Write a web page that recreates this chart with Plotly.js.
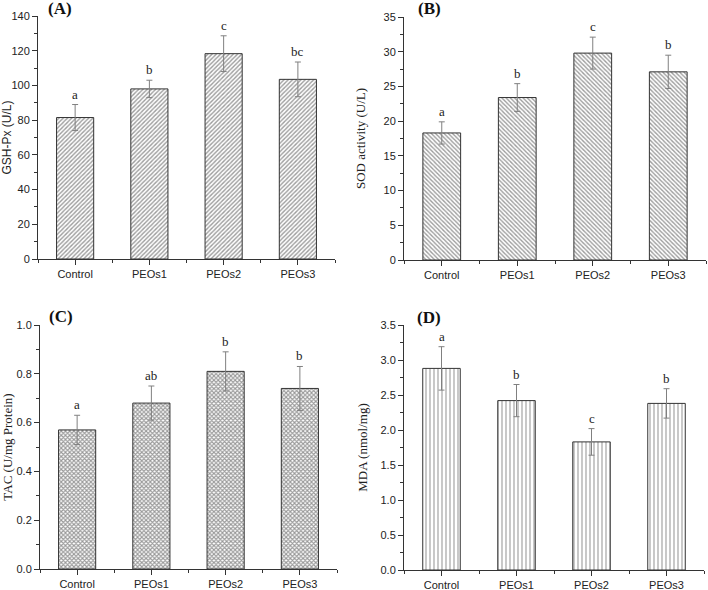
<!DOCTYPE html>
<html>
<head>
<meta charset="utf-8">
<script src="https://cdn.plot.ly/plotly-3.0.1.min.js"></script>
<style>html,body{margin:0;padding:0;background:#fff;}#chart{width:708px;height:590px;}</style>
</head>
<body>
<div id="chart"></div>
<script>
const categories = ["Control", "PEOs1", "PEOs2", "PEOs3"];

const gshValues = [81.5, 98, 118.3, 103.5];
const gshErrors = [7.5, 5, 10.3, 10];
const gshLetters = ["a", "b", "c", "bc"];

const sodValues = [18.3, 23.4, 29.8, 27.1];
const sodErrors = [1.6, 2.0, 2.3, 2.4];
const sodLetters = ["a", "b", "c", "b"];

const tacValues = [0.57, 0.68, 0.81, 0.74];
const tacErrors = [0.06, 0.07, 0.08, 0.09];
const tacLetters = ["a", "ab", "b", "b"];

const mdaValues = [2.88, 2.42, 1.83, 2.38];
const mdaErrors = [0.31, 0.23, 0.19, 0.21];
const mdaLetters = ["a", "b", "c", "b"];

const panelLabels = ["(A)", "(B)", "(C)", "(D)"];
const yTitles = ["GSH-Px (U/L)", "SOD activity (U/L)", "TAC (U/mg Protein)", "MDA (nmol/mg)"];

const xIdx = categories.map((c, i) => i);

const panels = [
  {vals: gshValues, errs: gshErrors, letters: gshLetters, shape: "/", psize: 3, psol: 0.45, fg: "#3a3a3a", range: [0, 140], dtick: 20, minor: 10, fmt: "", xd: [38/708, 335/708], yd: [331/590, 574/590], titleFont: "Liberation Sans, Arial, sans-serif", titleSize: 12, standoff: 10},
  {vals: sodValues, errs: sodErrors, letters: sodLetters, shape: "\\", psize: 3, psol: 0.45, fg: "#3a3a3a", range: [0, 35], dtick: 5, minor: 2.5, fmt: "", xd: [404/708, 706/708], yd: [330/590, 573/590], titleFont: "Liberation Serif, Times New Roman, serif", titleSize: 13, standoff: 14},
  {vals: tacValues, errs: tacErrors, letters: tacLetters, shape: "x", psize: 3, psol: 0.6, fg: "#333333", range: [0, 1.0], dtick: 0.2, minor: 0.1, fmt: ".1f", xd: [40/708, 337/708], yd: [21/590, 265/590], titleFont: "Liberation Serif, Times New Roman, serif", titleSize: 13, standoff: 7},
  {vals: mdaValues, errs: mdaErrors, letters: mdaLetters, shape: "|", psize: 4, psol: 0.28, fg: "#3a3a3a", range: [0, 3.5], dtick: 0.5, minor: 0.25, fmt: ".1f", xd: [404/708, 704/708], yd: [20/590, 265/590], titleFont: "Liberation Serif, Times New Roman, serif", titleSize: 13, standoff: 9}
];

const traces = [];
const annotations = [];
const layout = {
  width: 708, height: 590,
  margin: {l: 0, r: 0, t: 0, b: 0},
  paper_bgcolor: "#fff", plot_bgcolor: "#fff",
  showlegend: false,
  bargap: 0.5,
  font: {family: "Liberation Sans, Arial, sans-serif", size: 11, color: "#222"}
};

const panelPos = [[60, 9], [429, 8], [61, 316], [429, 317]];

panels.forEach((p, k) => {
  const n = k + 1;
  const xa = n === 1 ? "x" : "x" + n;
  const ya = n === 1 ? "y" : "y" + n;
  traces.push({
    type: "bar",
    x: xIdx,
    y: p.vals,
    xaxis: xa, yaxis: ya,
    width: 0.5,
    marker: {
      color: "#ffffff",
      line: {color: "#333", width: 1},
      pattern: {shape: p.shape, fgcolor: p.fg, bgcolor: "#ffffff", size: p.psize, solidity: p.psol, fillmode: "overlay"}
    },
    error_y: {type: "data", array: p.errs, visible: true, color: "#808080", thickness: 1, width: 3},
    hoverinfo: "skip"
  });
  layout["xaxis" + (n === 1 ? "" : n)] = {
    domain: p.xd, anchor: ya,
    range: [-0.5, 3.5],
    tickvals: xIdx, ticktext: categories,
    ticks: "outside", ticklen: 5, tickcolor: "#333", tickwidth: 1,
    minor: {dtick: 0.5, tick0: 0, ticks: "outside", ticklen: 3, tickcolor: "#333"},
    showline: true, linecolor: "#333", linewidth: 1,
    showgrid: false, zeroline: false,
    tickfont: {family: "Liberation Sans, Arial, sans-serif", size: 11, color: "#222"},
    fixedrange: true
  };
  layout["yaxis" + (n === 1 ? "" : n)] = {
    domain: p.yd, anchor: xa,
    range: p.range,
    dtick: p.dtick, tick0: 0, tickformat: p.fmt,
    ticks: "outside", ticklen: 5, tickcolor: "#333", tickwidth: 1,
    minor: {dtick: p.minor, ticks: "outside", ticklen: 3, tickcolor: "#333"},
    showline: true, linecolor: "#333", linewidth: 1,
    showgrid: false, zeroline: false,
    tickfont: {family: "Liberation Sans, Arial, sans-serif", size: 11, color: "#222"},
    title: {text: yTitles[k], font: {family: p.titleFont, size: p.titleSize, color: "#222"}, standoff: p.standoff},
    fixedrange: true
  };
  p.letters.forEach((t, i) => {
    annotations.push({
      xref: xa, yref: ya, x: xIdx[i], y: p.vals[i] + p.errs[i],
      text: t, showarrow: false, yanchor: "bottom", yshift: 1,
      font: {family: "Liberation Serif, Times New Roman, serif", size: 13, color: "#222"}
    });
  });
  annotations.push({
    xref: "paper", yref: "paper",
    x: panelPos[k][0] / 708, y: 1 - panelPos[k][1] / 590,
    xanchor: "center", yanchor: "middle",
    text: "<b>" + panelLabels[k] + "</b>", showarrow: false,
    font: {family: "Liberation Serif, Times New Roman, serif", size: 17, color: "#111"}
  });
});

layout.annotations = annotations;

Plotly.newPlot("chart", traces, layout, {staticPlot: true, displayModeBar: false});
</script>
</body>
</html>
